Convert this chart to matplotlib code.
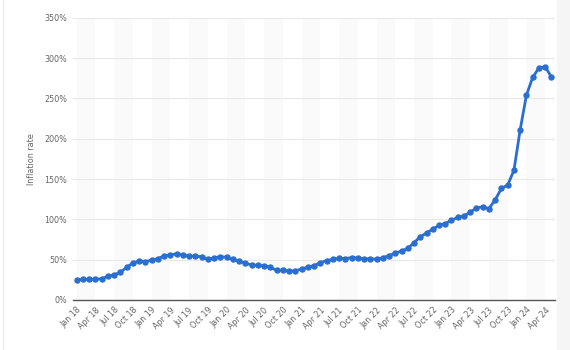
import matplotlib.pyplot as plt
from matplotlib.patches import Rectangle

# year-over-year inflation, monthly, Jan 2018 - May 2024
rate_2018 = [25.0, 25.4, 25.4, 25.5, 26.3, 29.5, 31.2, 34.4, 40.5, 45.9, 48.5, 47.6]
rate_2019 = [49.3, 51.3, 54.7, 55.8, 57.3, 55.8, 54.4, 54.5, 53.5, 50.5, 52.1, 53.8]
rate_2020 = [52.9, 50.3, 48.4, 45.6, 43.4, 42.8, 42.4, 40.7, 36.6, 37.2, 35.8, 36.1]
rate_2021 = [38.5, 40.7, 42.6, 46.3, 48.8, 50.2, 51.8, 51.4, 52.5, 52.1, 51.2, 50.9]
rate_2022 = [50.7, 52.3, 55.1, 58.0, 60.7, 64.0, 71.0, 78.5, 83.0, 88.0, 92.4, 94.8]
rate_2023 = [98.8, 102.5, 104.3, 108.8, 114.2, 115.6, 113.4, 124.4, 138.3, 142.7, 160.9, 211.4]
rate_2024 = [254.2, 276.2, 287.9, 289.4, 276.4]

rates = rate_2018 + rate_2019 + rate_2020 + rate_2021 + rate_2022 + rate_2023 + rate_2024
months = list(range(len(rates)))

tick_labels = []
for yr in range(18, 25):
    for m in ["Jan", "Apr", "Jul", "Oct"]:
        tick_labels.append(f"{m} {yr}")
tick_labels = tick_labels[:26]
tick_pos = [3 * i for i in range(len(tick_labels))]

fig = plt.figure(figsize=(5.7, 3.5), dpi=100)
ax = fig.add_axes([0.128, 0.143, 0.846, 0.806])

# alternating background bands
for k in range(0, 78, 6):
    ax.axvspan(k, k + 3, color="#fafafa", zorder=0, lw=0)

ax.plot(months, rates, color="#2a6fd0", lw=2, marker="o", ms=3.6, zorder=3)

ax.set_xlim(-0.6, 76.6)
ax.set_ylim(0, 350)
ax.set_yticks(range(0, 351, 50))
ax.set_yticklabels([f"{v}%" for v in range(0, 351, 50)])
ax.set_xticks(tick_pos)
ax.set_xticklabels(tick_labels, rotation=45, ha="right", rotation_mode="anchor")
ax.tick_params(axis="both", length=0, labelsize=5.8, colors="#666666", pad=4)
ax.grid(axis="y", color="#e8e8e8", lw=0.8, zorder=1)
ax.set_axisbelow(True)
for s in ["top", "right", "left"]:
    ax.spines[s].set_visible(False)
ax.spines["bottom"].set_color("#555555")
ax.spines["bottom"].set_linewidth(1)
ax.set_ylabel("Inflation rate", fontsize=5.8, color="#666666", labelpad=6)

# page edges
fig.add_artist(Rectangle((0.978, 0), 0.022, 1, transform=fig.transFigure,
                         color="#f5f5f5", lw=0, zorder=-1))
fig.add_artist(plt.Line2D([0.006, 0.006], [0, 1], transform=fig.transFigure,
                          color="#ebebeb", lw=1))

fig.savefig("out.png", dpi=100)
